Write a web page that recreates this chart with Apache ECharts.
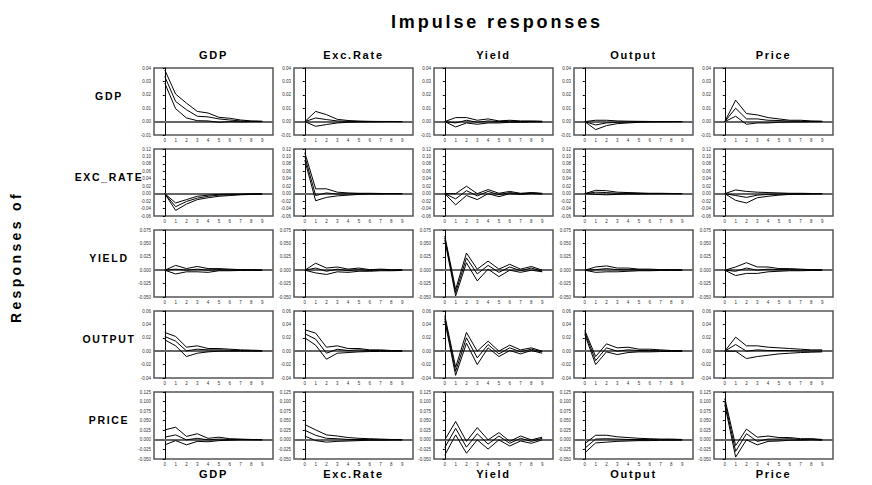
<!DOCTYPE html>
<html><head><meta charset="utf-8">
<script src="https://cdn.jsdelivr.net/npm/echarts@6/dist/echarts.min.js"></script>
<style>
html,body{margin:0;padding:0;background:#fff;}
#c{width:872px;height:485px;}
#c svg text[style*="Liberation Sans"]{letter-spacing:0.16em;}
#c svg text[style*="14px"]{letter-spacing:0.24em;}
</style></head><body><div id="c"></div>
<script>
const shocks = ['GDP','Exc.Rate','Yield','Output','Price'];
const responses = ['GDP','EXC_RATE','YIELD','OUTPUT','PRICE'];
const steps = [0,1,2,3,4,5,6,7,8,9];
const yMin = [-0.01,-0.06,-0.05,-0.04,-0.05];
const yMax = [0.04,0.12,0.075,0.06,0.125];
const yStep = [0.01,0.02,0.025,0.02,0.025];
const yDigits = [2,2,3,2,3];

// each array: one list per shock (GDP, Exc.Rate, Yield, Output, Price)
const GDP_upper = [
 [0.0385,0.0205,0.0138,0.0076,0.0064,0.0032,0.0025,0.0012,0.0005,0.0003],
 [0,0.0076,0.0052,0.0017,0.0008,0.0004,0.0002,0.0001,0.0001,0],
 [0,0.003,0.003,0.001,0.002,0.0005,0.001,0.0005,0.0005,0.0003],
 [0,0.001,0.001,0.0005,0.0003,0.0002,0.0001,0,0,0],
 [0,0.016,0.006,0.005,0.003,0.002,0.001,0.001,0.0005,0.0003]];
const GDP_point = [
 [0.0336,0.015,0.0089,0.004,0.0035,0.002,0.0012,0.0005,0.0002,0.0001],
 [0,0.0027,0.0015,0.0005,0.0002,0.0001,0,0,0,0],
 [0,-0.001,0.001,-0.0005,0.0005,0,0.0003,0,0.0001,0],
 [0,-0.0025,-0.001,-0.0005,-0.0003,-0.0001,0,0,0,0],
 [0,0.010,0.002,0.002,0.001,0.0008,0.0004,0.0003,0.0001,0.0001]];
const GDP_lower = [
 [0.0287,0.0096,0.0027,0.0007,0.0005,-0.0005,0,-0.0002,0,0],
 [0,-0.0035,-0.0022,-0.001,-0.0005,-0.0003,-0.0002,-0.0001,0,0],
 [0,-0.004,-0.001,-0.002,-0.001,-0.001,-0.0005,-0.0005,-0.0003,-0.0002],
 [0,-0.006,-0.003,-0.0015,-0.001,-0.0005,-0.0003,-0.0002,-0.0001,0],
 [0,0.004,-0.002,-0.001,-0.001,-0.0005,-0.0003,-0.0002,-0.0001,0]];

const EXC_upper = [
 [0,-0.025,-0.016,-0.007,-0.004,-0.002,-0.001,-0.001,-0.0005,0],
 [0.11,0.013,0.013,0.004,0.002,0.001,0.001,0.0005,0.0003,0.0002],
 [0,0.0,0.020,0.0,0.011,0.001,0.006,0.001,0.003,0.001],
 [0,0.009,0.008,0.004,0.003,0.002,0.001,0.001,0.0005,0.0003],
 [0,0.01,0.006,0.004,0.003,0.002,0.001,0.001,0.0005,0.0003]];
const EXC_point = [
 [0,-0.035,-0.021,-0.012,-0.007,-0.004,-0.003,-0.002,-0.001,-0.001],
 [0.10,-0.005,0.002,-0.001,-0.0005,0,0,0,0,0],
 [0,-0.014,0.008,-0.006,0.006,-0.003,0.003,-0.001,0.002,0],
 [0,0.004,0.003,0.001,0.001,0.0005,0.0003,0.0002,0.0001,0],
 [0,-0.005,-0.01,-0.004,-0.002,-0.001,-0.0005,-0.0003,-0.0002,-0.0001]];
const EXC_lower = [
 [0,-0.045,-0.028,-0.016,-0.011,-0.007,-0.005,-0.003,-0.002,-0.001],
 [0.09,-0.019,-0.010,-0.006,-0.004,-0.002,-0.001,-0.001,-0.0005,-0.0003],
 [0,-0.030,-0.005,-0.016,0.0,-0.008,0.0,-0.002,0.0,-0.001],
 [0,-0.002,-0.003,-0.002,-0.001,-0.001,-0.0005,-0.0003,-0.0002,-0.0001],
 [0,-0.018,-0.025,-0.011,-0.007,-0.004,-0.002,-0.0015,-0.001,-0.0005]];

const YIELD_upper = [
 [0,0.009,0.003,0.007,0.003,0.003,0.002,0.001,0.001,0.0005],
 [0,0.013,0.004,0.006,0.002,0.004,0.001,0.002,0.001,0.001],
 [0.064,-0.036,0.032,0.002,0.017,0.002,0.011,0.002,0.007,0.0],
 [0,0.006,0.008,0.004,0.004,0.002,0.002,0.001,0.001,0.0005],
 [0,0.006,0.014,0.006,0.006,0.003,0.003,0.002,0.001,0.001]];
const YIELD_point = [
 [0,0.002,0.0,0.002,0.0,0.001,0.0005,0.0003,0.0002,0.0001],
 [0,0.004,-0.002,0.002,-0.001,0.001,-0.0005,0.0005,0,0],
 [0.060,-0.042,0.023,-0.007,0.009,-0.004,0.006,-0.001,0.004,-0.002],
 [0,0.001,0.003,0.001,0.001,0.0005,0.0005,0.0002,0.0002,0],
 [0,-0.002,0.004,0,0.002,0.001,0.001,0.0005,0.0003,0.0002]];
const YIELD_lower = [
 [0,-0.007,-0.003,-0.003,-0.004,-0.001,-0.001,-0.0005,-0.0003,-0.0002],
 [0,-0.005,-0.008,-0.003,-0.004,-0.002,-0.002,-0.001,-0.001,-0.0005],
 [0.056,-0.048,0.014,-0.020,0.002,-0.012,0.0,-0.004,0.0,-0.003],
 [0,-0.004,-0.003,-0.003,-0.002,-0.001,-0.001,-0.0005,-0.0003,-0.0002],
 [0,-0.01,-0.006,-0.006,-0.003,-0.002,-0.001,-0.001,-0.0005,-0.0003]];

const OUTPUT_upper = [
 [0.028,0.022,0.006,0.008,0.004,0.004,0.003,0.002,0.0015,0.001],
 [0.032,0.027,0.006,0.008,0.004,0.004,0.002,0.002,0.001,0.001],
 [0.053,-0.024,0.028,0.0,0.015,0.0,0.009,0.002,0.005,0.0],
 [0.031,-0.008,0.011,0.005,0.006,0.003,0.003,0.002,0.001,0.001],
 [0,0.021,0.008,0.008,0.006,0.005,0.004,0.003,0.002,0.002]];
const OUTPUT_point = [
 [0.022,0.015,0.0005,0.003,0.002,0.002,0.0015,0.001,0.0008,0.0005],
 [0.026,0.018,-0.003,0.003,0.001,0.002,0.001,0.001,0.0005,0.0003],
 [0.049,-0.030,0.020,-0.010,0.010,-0.004,0.005,-0.001,0.003,-0.001],
 [0.028,-0.014,0.005,0.0,0.002,0.001,0.001,0.0005,0.0003,0.0002],
 [0,0.01,0.0,0.002,0.001,0.001,0.001,0.0005,0.0003,0.0002]];
const OUTPUT_lower = [
 [0.017,0.008,-0.008,-0.003,-0.001,0,0,0,0,0],
 [0.02,0.009,-0.012,-0.003,-0.002,-0.001,-0.0005,-0.0003,-0.0002,-0.0001],
 [0.045,-0.036,0.012,-0.020,0.005,-0.008,0.001,-0.004,0.001,-0.003],
 [0.025,-0.02,-0.001,-0.005,-0.002,-0.001,-0.001,-0.0005,-0.0003,-0.0002],
 [0,0.0,-0.011,-0.008,-0.006,-0.004,-0.003,-0.002,-0.0015,-0.001]];

const PRICE_upper = [
 [0.026,0.033,0.009,0.016,0.004,0.007,0.003,0.002,0.001,0.001],
 [0.04,0.026,0.013,0.01,0.006,0.004,0.003,0.002,0.001,0.001],
 [0.0,0.048,-0.004,0.032,0.0,0.019,-0.004,0.01,0.0,0.007],
 [-0.01,0.012,0.012,0.008,0.006,0.004,0.003,0.002,0.002,0.001],
 [0.108,-0.015,0.028,0.007,0.01,0.006,0.006,0.003,0.003,0.001]];
const PRICE_point = [
 [0.007,0.013,0.0,0.004,0.0,0.002,0.001,0.001,0.0005,0],
 [0.025,0.012,0.004,0.003,0.001,0.001,0.0005,0.0003,0.0002,0.0001],
 [-0.02,0.030,-0.019,0.016,-0.011,0.01,-0.009,0.004,-0.004,0.004],
 [-0.022,0.002,0.003,0.002,0.001,0.001,0.0005,0.0003,0.0002,0.0001],
 [0.1,-0.03,0.016,-0.004,0.002,0.002,0.003,0.001,0.002,0]];
const PRICE_lower = [
 [-0.013,-0.002,-0.013,-0.004,-0.005,-0.002,-0.001,0,0,0],
 [0.01,-0.002,-0.006,-0.004,-0.003,-0.002,-0.001,-0.001,-0.0005,-0.0003],
 [-0.04,0.013,-0.035,0.0,-0.024,0.0,-0.016,-0.003,-0.009,0.0],
 [-0.034,-0.008,-0.006,-0.004,-0.003,-0.002,-0.002,-0.001,-0.001,-0.0005],
 [0.092,-0.045,0.0,-0.013,-0.004,-0.003,-0.001,-0.001,0,-0.001]];

const rowData = [
 [GDP_upper, GDP_point, GDP_lower],
 [EXC_upper, EXC_point, EXC_lower],
 [YIELD_upper, YIELD_point, YIELD_lower],
 [OUTPUT_upper, OUTPUT_point, OUTPUT_lower],
 [PRICE_upper, PRICE_point, PRICE_lower]];

// layout
const colLeft0 = 154, colGap = 140, panelW = 119;
const rowTop0 = 68, rowGap = 81, panelH = 67;
const tickFont = 'Arial';
const spacedFont = 'Liberation Sans';

const grids = [], xAxes = [], yAxes = [], series = [], graphics = [];
let k = 0;
for (let r = 0; r < 5; r++) {
  for (let c = 0; c < 5; c++) {
    const left = colLeft0 + c * colGap, top = rowTop0 + r * rowGap;
    grids.push({left: left, top: top, width: panelW, height: panelH,
      show: true, borderColor: '#555', borderWidth: 1.5, backgroundColor: 'transparent'});
    xAxes.push({gridIndex: k, type: 'value', min: -1, max: 10, interval: 1,
      axisLine: {show: false}, axisTick: {show: false}, splitLine: {show: false},
      axisLabel: {fontSize: 4.5, color: '#333', fontFamily: tickFont, margin: 3,
        formatter: v => (v >= 0 && v <= 9) ? String(steps[v]) : ''}});
    yAxes.push({gridIndex: k, type: 'value', min: yMin[r], max: yMax[r], interval: yStep[r],
      axisLine: {show: true, lineStyle: {color: '#000', width: 1}},
      axisTick: {show: true, length: 2, lineStyle: {color: '#000'}},
      splitLine: {show: false},
      axisLabel: {fontSize: 4.5, color: '#333', fontFamily: tickFont, margin: 3,
        formatter: v => v.toFixed(yDigits[r])}});
    const names = ['upper', 'point', 'lower'];
    for (let s = 0; s < 3; s++) {
      const vals = rowData[r][s][c];
      const ser = {type: 'line', xAxisIndex: k, yAxisIndex: k, name: names[s],
        data: steps.map((x, i) => [x, vals[i]]), showSymbol: false, symbol: 'none',
        lineStyle: {color: '#000', width: 1}, silent: true, animation: false, z: 3};
      if (s === 0) {
        ser.markLine = {silent: true, symbol: 'none', label: {show: false},
          lineStyle: {color: '#666', width: 2, type: 'solid'}, data: [{yAxis: 0}], z: 2};
      }
      series.push(ser);
    }
    k++;
  }
}

const txt = (x, y, text, size, extra) => Object.assign({type: 'text', x: x, y: y,
  style: {text: text, fontSize: size, fontWeight: 'bold', fontFamily: spacedFont,
    fill: '#000', align: 'center', verticalAlign: 'middle'}}, extra || {});

graphics.push(txt(497, 22, 'Impulse responses', 18));
for (let c = 0; c < 5; c++) {
  const cx = colLeft0 + c * colGap + panelW / 2;
  graphics.push(txt(cx, 55, shocks[c], 11));
  graphics.push(txt(cx, 474, shocks[c], 11));
}
for (let r = 0; r < 5; r++) {
  graphics.push(txt(109, rowTop0 + r * rowGap + 28, responses[r], 10.5));
}
graphics.push(txt(16, 257, 'Responses of', 14, {rotation: Math.PI / 2}));

const chart = echarts.init(document.getElementById('c'), null, {renderer: 'svg', width: 872, height: 485});
chart.setOption({
  backgroundColor: '#fff',
  animation: false,
  grid: grids, xAxis: xAxes, yAxis: yAxes, series: series,
  graphic: graphics
});
</script></body></html>
